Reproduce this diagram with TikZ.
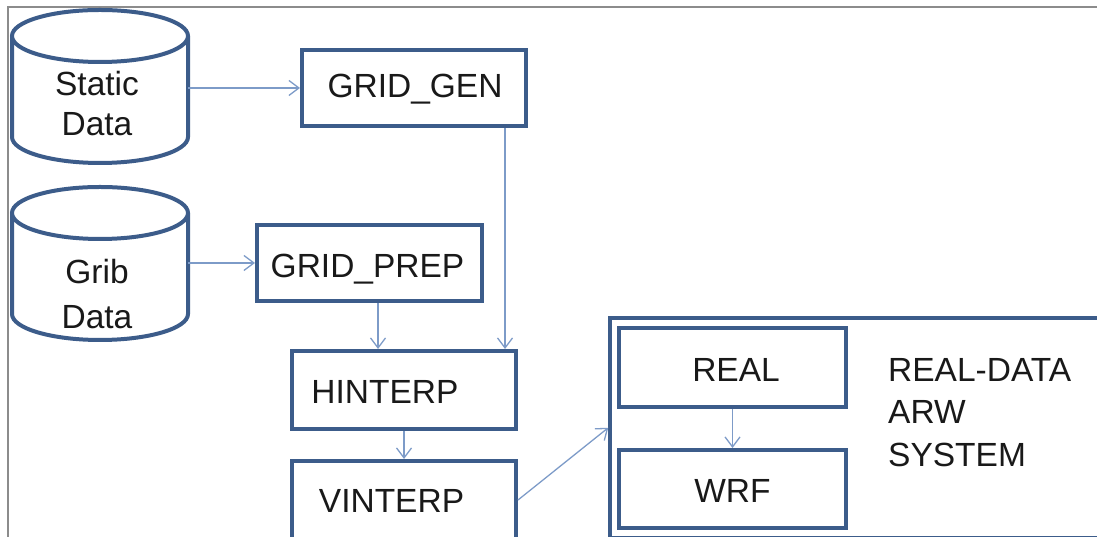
\documentclass[tikz,border=0pt]{standalone}
\usepackage{fontspec}
\setmainfont{Liberation Sans}
\usetikzlibrary{arrows.meta}
\definecolor{boxblue}{RGB}{60,92,138}
\definecolor{linkblue}{RGB}{125,155,200}
\definecolor{framegray}{RGB}{140,140,140}
\definecolor{ink}{RGB}{25,25,25}
\begin{document}
\begin{tikzpicture}[x=1pt,y=1pt,
  stepbox/.style={draw=boxblue, line width=4pt, fill=white, inner sep=0pt},
  dbline/.style={draw=boxblue, line width=4pt, fill=white},
  hull/.style={inner sep=0pt, outer sep=0pt},
  lbl/.style={text=ink, inner sep=0pt, font=\fontsize{33.5}{40}\selectfont},
  link/.style={draw=linkblue, line width=1.3pt,
    -{Straight Barb[length=10pt, width=15pt, line width=1.3pt]}}]
\useasboundingbox (0,0) rectangle (1097,537);

% outer frame (top and left edges)
\draw[framegray, line width=2pt] (8,0) -- (8,530) -- (1097,530);

% data stores
\draw[dbline] (12,501) -- (12,400) arc[start angle=180, end angle=360, x radius=88, y radius=26] -- (188,501);
\draw[dbline] (100,501) ellipse[x radius=88, y radius=26];
\node[hull, minimum width=176pt, minimum height=153pt] (staticdb) at (100,450.5) {};
\node[lbl, align=center] (statictxt) at (97,433) {Static\\Data};

\draw[dbline] (12,324) -- (12,223) arc[start angle=180, end angle=360, x radius=88, y radius=26] -- (188,324);
\draw[dbline] (100,324) ellipse[x radius=88, y radius=26];
\node[hull, minimum width=176pt, minimum height=153pt] (gribdb) at (100,273.5) {};
\node[lbl, align=center, font=\fontsize{33.5}{45}\selectfont] (gribtxt) at (97,243) {Grib\\Data};

% processing steps
\node[stepbox, minimum width=224pt, minimum height=76pt] (gridgen) at (414,449) {};
\node[stepbox, minimum width=225pt, minimum height=76pt] (gridprep) at (369.5,274) {};
\node[stepbox, minimum width=224pt, minimum height=78pt] (hinterp) at (404,147) {};
\node[stepbox, minimum width=224pt, minimum height=78pt] (vinterp) at (404,37) {};

\node[lbl, anchor=base] (gridgentxt) at (415,439) {GRID\_GEN};
\node[lbl, anchor=base] (gridpreptxt) at (367.5,259) {GRID\_PREP};
\node[lbl, anchor=base] (hinterptxt) at (385,133) {HINTERP};
\node[lbl, anchor=base] (vinterptxt) at (391.5,24) {VINTERP};

% real-data ARW system
\node[stepbox, line width=3.5pt, minimum width=492pt, minimum height=219.5pt] (arw) at (856,109.25) {};
\node[stepbox, minimum width=227pt, minimum height=79pt] (real) at (732.5,169.5) {};
\node[stepbox, minimum width=227pt, minimum height=78pt] (wrf) at (732.5,48) {};
\node[lbl, anchor=base] (realtxt) at (736,155) {REAL};
\node[lbl, anchor=base] (wrftxt) at (732.5,34) {WRF};
\node[lbl, anchor=west, align=left, font=\fontsize{33.5}{42.5}\selectfont] (arwtxt) at (888,124.5) {REAL-DATA\\ARW\\SYSTEM};

% data flow
\draw[link] (staticdb.east |- gridgen.west) -- (gridgen.west);
\draw[link] (gribdb.east |- gridprep.west) -- (gridprep.west);
\draw[link] ([xshift=-23pt]gridgen.south east) -- ([xshift=-23pt]gridgen.south east |- hinterp.north);
\draw[link] ([xshift=8.5pt]gridprep.south) -- ([xshift=8.5pt]gridprep.south |- hinterp.north);
\draw[link] (hinterp) -- (vinterp);
\draw[link] (vinterp.east) -- (arw.west);
\draw[link] (real) -- (wrf);
\end{tikzpicture}
\end{document}
